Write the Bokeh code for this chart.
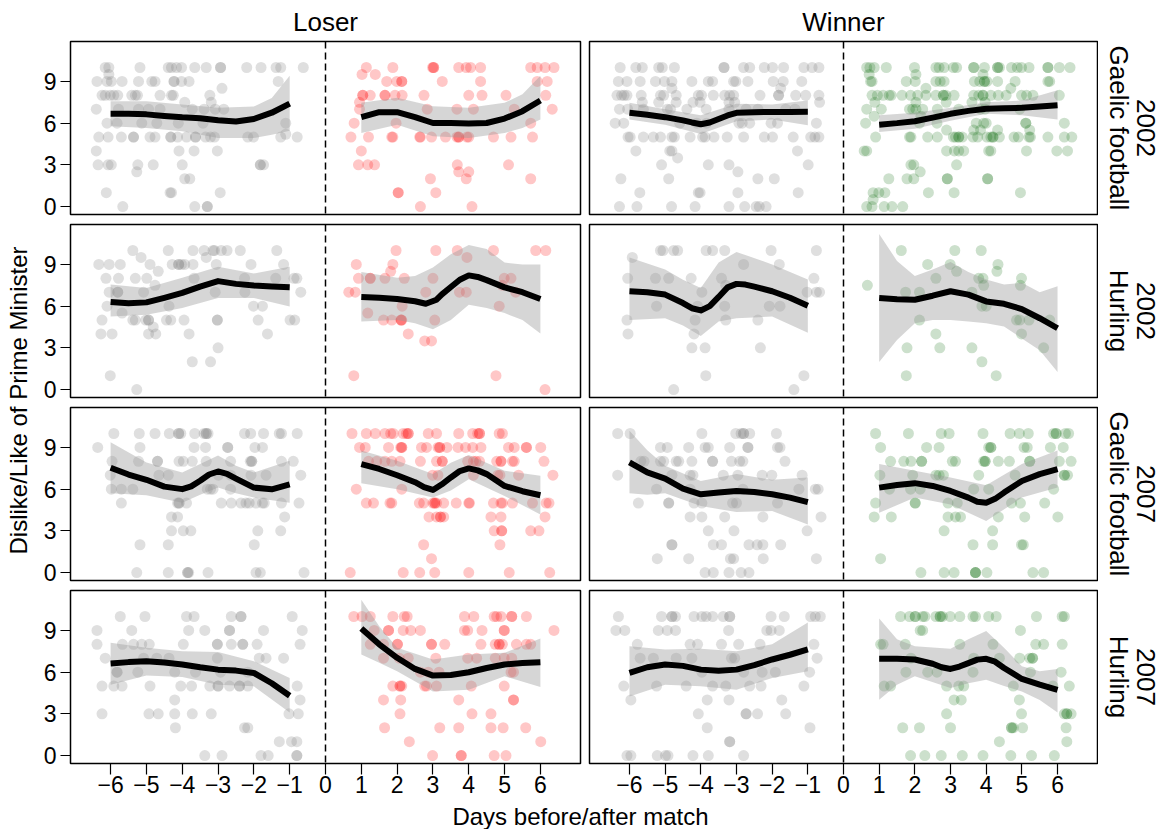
import math
from bokeh.plotting import figure
from bokeh.models import Range1d, FixedTicker, Span, Label
from bokeh.layouts import column, row
from bokeh.embed import file_html
from bokeh.resources import INLINE

FONT = "Liberation Sans"

# ---------------- facet labels / ticks ----------------
COL_LABELS = ["Loser", "Winner"]
ROW_YEARS = ["2002", "2002", "2007", "2007"]
ROW_SPORTS = ["Gaelic football", "Hurling", "Gaelic football", "Hurling"]
X_TICKS = [-6, -5, -4, -3, -2, -1, 0, 1, 2, 3, 4, 5, 6]
X_TICK_LABELS = ["\u22126", "\u22125", "\u22124", "\u22123", "\u22122", "\u22121",
                 "0", "1", "2", "3", "4", "5", "6"]
Y_TICKS = [0, 3, 6, 9]
X_LABEL = "Days before/after match"
Y_LABEL = "Dislike/Like of Prime Minister"

# ---------------- observations: (rating, [jittered day values]) ----------------
# 2002 Gaelic football, Loser
gf02_loser_pre = [
    (10, [-6.15, -6.05, -5.18, -4.39, -4.30, -4.16, -4.02, -3.65, -3.33, -2.93, -2.93, -2.20, -1.80, -1.38, -1.25, -0.62]),
    (9.5, [-6.05]),
    (9, [-6.38, -6.10, -5.98, -5.68, -5.22, -4.85, -4.76, -4.23, -4.23, -4.02, -3.81, -1.32]),
    (8.5, [-2.89]),
    (8, [-6.24, -6.15, -6.01, -5.91, -5.80, -5.41, -5.31, -5.25, -4.62, -4.30, -4.25, -3.23]),
    (7.5, [-3.93, -3.19]),
    (7, [-6.40, -5.78, -5.22, -4.94, -4.62, -3.72, -3.39, -3.08, -2.84]),
    (6, [-6.10, -5.82, -5.13, -4.71, -4.11, -3.42, -1.11]),
    (5.2, [-1.11]),
    (5, [-6.33, -6.07, -5.70, -5.36, -5.36, -4.90, -4.76, -4.32, -4.32, -4.13, -3.88, -3.63, -3.63, -3.35, -3.21, -3.10, -2.17, -2.01, -1.25, -0.79]),
    (4, [-6.40, -4.09, -3.67, -3.02]),
    (3, [-6.35, -6.07, -5.98, -5.24, -4.81, -4.00, -1.82, -1.82, -1.73]),
    (2.5, [-5.27]),
    (2, [-3.93, -3.79]),
    (1, [-6.12, -4.34, -4.30, -2.94]),
    (0, [-5.66, -3.65, -3.30, -3.30]),
]
gf02_loser_post = [
    (10, [1.14, 1.88, 2.99, 3.02, 3.02, 3.72, 3.93, 4.05, 4.33, 5.73, 5.91, 6.13, 6.38]),
    (9.5, [1.02, 1.39]),
    (9, [1.71, 1.99, 2.13, 2.13, 3.26, 4.33, 5.91, 6.19]),
    (8, [1.04, 1.04, 1.25, 1.66, 1.66, 1.94, 2.14, 2.75, 4.00, 4.37, 5.04, 6.15]),
    (7.5, [0.95]),
    (7, [0.95, 2.84, 3.67, 4.13, 5.27, 6.33]),
    (6, [0.80, 1.97, 5.73]),
    (5, [0.71, 1.20, 1.85, 1.88, 2.63, 2.65, 2.96, 3.35, 3.67, 3.72, 3.72, 3.95, 4.00, 4.69, 5.18, 5.78]),
    (4, [1.00]),
    (3, [0.92, 1.18, 1.37, 3.68, 5.11]),
    (2.5, [3.72, 4.00]),
    (2, [2.93, 3.93, 5.73]),
    (1, [2.03, 2.03, 3.08]),
    (0, [2.65, 4.09]),
]
# 2002 Gaelic football, Winner
gf02_winner_pre = [
    (10, [-6.26, -5.82, -5.64, -5.18, -5.08, -4.74, -3.35, -3.35, -2.80, -2.63, -2.22, -1.99, -1.68, -1.11, -0.88, -0.69]),
    (9, [-6.31, -6.07, -5.70, -5.27, -5.02, -4.81, -4.25, -3.79, -3.67, -3.08, -3.02, -2.68, -1.97, -1.69, -1.17]),
    (8.5, [-4.81, -1.76]),
    (8, [-6.35, -6.22, -6.15, -6.07, -5.67, -5.13, -5.04, -4.69, -4.07, -3.98, -3.65, -3.33, -3.19, -3.08, -2.34, -1.82, -1.82, -1.34, -1.06, -0.69]),
    (7.5, [-5.64, -5.18, -4.69, -4.22, -4.02, -3.21, -3.05, -0.67]),
    (7, [-6.28, -6.05, -5.61, -4.94, -4.85, -4.39, -3.85, -3.21, -2.73, -2.40, -1.62, -1.36]),
    (6, [-6.40, -6.16, -4.59, -4.11, -3.84, -2.93, -2.84, -2.63, -2.03, -1.85, -0.76]),
    (5, [-6.04, -5.98, -5.61, -5.33, -5.13, -4.81, -4.74, -4.30, -3.95, -3.88, -3.63, -3.26, -2.80, -2.22, -1.99, -1.41, -0.92, -0.80, -0.69]),
    (4, [-5.82, -4.87, -4.81, -1.29]),
    (3.5, [-4.65]),
    (3, [-5.10, -3.79, -3.21, -0.99]),
    (2.5, [-2.96]),
    (2, [-6.24, -4.90, -2.40, -1.94]),
    (1, [-5.71, -4.07, -4.02, -2.96, -1.27]),
    (0, [-6.28, -5.79, -4.82, -4.16, -3.21, -2.77, -2.45, -2.36, -2.17]),
]
gf02_winner_post = [
    (10, [0.65, 0.74, 0.86, 1.20, 1.99, 2.59, 2.68, 2.82, 3.08, 3.17, 3.65, 3.65, 3.95, 4.32, 4.32, 4.37, 4.71, 4.87, 4.99, 5.20, 5.73, 5.73, 6.05, 6.35]),
    (9.5, [0.72, 2.03, 3.91]),
    (9, [0.76, 0.80, 1.76, 2.01, 2.59, 2.71, 2.82, 3.67, 3.82, 3.95, 3.95, 4.02, 4.32, 4.81, 5.73, 5.78]),
    (8.5, [2.31, 4.69]),
    (8, [0.80, 0.95, 1.11, 1.28, 1.34, 1.64, 1.88, 2.08, 2.31, 2.59, 2.80, 2.80, 2.87, 3.10, 3.65, 3.79, 3.91, 3.91, 4.13, 4.34, 4.56, 4.99, 5.13, 5.31, 6.05]),
    (7.5, [0.88, 2.03, 2.88, 3.60, 3.97]),
    (7, [0.65, 1.06, 1.85, 1.94, 2.03, 2.22, 2.63, 3.23, 3.84, 3.97, 4.94]),
    (6.5, [0.86, 2.17]),
    (6, [0.62, 2.13, 2.62, 3.72, 3.93, 4.00, 5.11, 5.11, 6.19]),
    (5.5, [2.89, 3.65, 3.84, 4.32, 5.22]),
    (5, [0.90, 1.85, 1.89, 2.36, 2.63, 3.08, 3.14, 3.23, 3.23, 3.33, 3.63, 3.76, 4.02, 4.13, 4.19, 4.19, 4.37, 4.78, 4.90, 5.20, 5.24, 5.73, 6.19, 6.40]),
    (4, [0.58, 0.65, 2.89, 3.11, 3.23, 3.37, 4.07, 4.13, 5.13, 5.98, 6.28]),
    (3, [1.89, 1.97, 3.17]),
    (2.5, [2.15]),
    (2, [1.27, 1.78, 1.97, 2.91, 2.91, 4.04, 4.04]),
    (1, [0.83, 0.99, 1.16, 2.38, 3.10, 4.96]),
    (0.5, [0.83]),
    (0, [0.65, 0.80, 1.14, 1.36, 1.66]),
]
# 2002 Hurling, Loser
hu02_loser_pre = [
    (10, [-5.38, -4.39, -3.70, -3.39, -3.14, -3.10, -2.91, -2.75, -2.38, -1.36]),
    (9.5, [-5.15, -3.33]),
    (9, [-6.33, -6.04, -5.73, -4.90, -4.28, -4.10, -4.10, -4.02, -3.93, -3.70, -3.05, -2.08, -1.17]),
    (8.5, [-4.67]),
    (8, [-6.13, -5.78, -5.31, -4.99, -3.67, -2.26, -1.39, -0.88, -0.80]),
    (7.5, [-4.76]),
    (7, [-6.04, -5.80, -5.80, -5.08, -3.08, -2.25, -0.69]),
    (6, [-6.10, -4.37, -2.01, -1.76]),
    (5.5, [-5.68]),
    (5, [-6.24, -5.38, -5.31, -5.02, -4.94, -4.94, -4.44, -4.32, -3.95, -3.02, -3.02, -1.88, -0.99, -0.86]),
    (4.5, [-4.81]),
    (4, [-6.27, -5.96, -4.94, -4.74, -3.81, -1.62]),
    (3, [-3.00]),
    (2, [-3.72, -3.21]),
    (1, [-6.01]),
    (0, [-5.27]),
]
hu02_loser_post = [
    (10, [1.97, 3.08, 3.68, 4.69, 5.87, 6.15]),
    (9.5, [3.95]),
    (9, [0.86, 1.88]),
    (8.5, [1.82]),
    (8, [0.92, 1.25, 1.25, 1.66, 2.20, 3.00, 4.99, 5.18]),
    (7.5, [4.94]),
    (7, [0.65, 0.83, 2.80, 3.74, 3.93, 5.31]),
    (6, [2.14, 4.85]),
    (5.5, [1.18]),
    (5, [1.62, 1.85, 2.11, 2.11, 2.13, 3.05]),
    (4, [2.31]),
    (3.5, [2.77, 2.96]),
    (1, [0.79, 4.76]),
    (0, [6.13]),
]
# 2002 Hurling, Winner
hu02_winner_pre = [
    (10, [-5.13, -5.06, -4.76, -4.65, -3.85, -3.67, -3.33, -2.03, -0.76]),
    (9.5, [-5.92]),
    (9, [-2.80, -1.80]),
    (8, [-6.05, -5.27, -4.90, -4.27, -3.42, -0.83]),
    (7.5, [-3.30]),
    (7, [-3.97, -1.02, -0.76, -0.67]),
    (6, [-5.24, -4.09, -3.33, -2.08, -1.78]),
    (5, [-6.07, -4.16, -3.30, -2.40]),
    (4, [-6.04, -4.19]),
    (3, [-4.25, -3.88, -2.33]),
    (1, [-3.86, -1.11]),
    (0, [-4.76, -1.39]),
]
hu02_winner_post = [
    (10, [1.62, 3.12, 3.86]),
    (9, [2.36, 2.99, 4.33]),
    (8.5, [3.17, 4.30]),
    (8, [2.59, 3.79, 3.91, 4.99]),
    (7.5, [0.67, 3.93, 4.96]),
    (7, [1.74, 2.13, 3.60]),
    (6, [3.88, 4.00]),
    (5, [2.13, 4.85, 4.94, 5.20, 5.78]),
    (4, [2.59, 4.99]),
    (3, [1.78, 2.70, 3.60, 5.61]),
    (2, [3.88]),
    (1, [1.76, 4.28]),
]
# 2007 Gaelic football, Loser
gf07_loser_pre = [
    (10, [-5.91, -5.20, -4.76, -4.36, -4.10, -4.10, -4.04, -3.65, -3.39, -3.33, -3.33, -3.28, -2.26, -2.09, -1.73, -1.29, -1.23, -0.79]),
    (9, [-6.36, -5.18, -3.67, -3.35, -2.73, -2.73, -1.97, -1.76]),
    (8, [-5.96, -5.22, -4.69, -4.69, -4.09, -3.97, -3.72, -3.33, -2.65, -2.10, -2.06, -2.06, -1.23, -0.90]),
    (7, [-6.01, -4.65, -4.39, -2.99, -2.65, -2.08, -1.66, -0.69]),
    (6, [-5.98, -5.70, -5.38, -3.30, -3.21, -3.14, -2.65]),
    (5, [-5.70, -4.13, -4.09, -4.09, -3.88, -2.91, -2.63, -2.36, -2.22, -2.13, -1.94, -1.76, -1.71, -1.23, -0.74]),
    (4, [-4.30, -4.13, -1.14]),
    (3, [-4.30, -3.97, -3.76, -1.89, -1.25]),
    (2, [-5.18, -4.39, -1.99]),
    (0, [-5.27, -4.39, -3.85, -3.85, -3.82, -3.28, -1.94, -1.82, -0.60]),
]
gf07_loser_post = [
    (10, [0.74, 1.14, 1.39, 1.66, 1.82, 1.89, 2.17, 2.26, 2.31, 2.31, 2.87, 3.10, 3.72, 4.11, 4.25, 4.30, 4.30, 4.85, 4.94]),
    (9, [0.95, 1.11, 1.76, 2.10, 2.13, 2.13, 2.68, 2.82, 3.14, 3.19, 3.19, 3.39, 3.70, 3.91, 4.11, 4.34, 5.11, 5.27, 5.61, 5.61, 6.01]),
    (8, [1.20, 1.43, 1.66, 1.85, 2.08, 2.65, 3.10, 3.26, 3.26, 3.97, 4.13, 4.20, 4.30, 4.78, 4.90, 4.90, 5.22, 5.27, 6.10]),
    (7, [2.99, 3.14, 4.13, 4.81, 4.87, 5.39, 6.35]),
    (6, [0.86, 2.13]),
    (5, [1.14, 1.34, 1.80, 1.85, 2.62, 2.74, 3.00, 3.05, 3.05, 3.10, 3.30, 3.65, 4.00, 4.02, 4.69, 4.90, 4.94, 5.22, 5.78, 6.16, 6.24]),
    (4, [2.89, 3.10, 3.21, 3.21, 3.30, 4.62, 4.90, 6.13]),
    (3, [4.71, 4.92, 4.92, 5.73, 5.96]),
    (2, [2.74, 4.87]),
    (1, [2.96]),
    (0, [0.69, 2.17, 2.63, 3.05, 4.00, 5.13, 6.26]),
]
# 2007 Gaelic football, Winner
gf07_winner_pre = [
    (10, [-6.33, -5.98, -3.97, -3.02, -2.87, -2.80, -2.80, -2.63, -1.88]),
    (9, [-5.13, -4.94, -4.34, -3.88, -3.79, -3.19, -2.68, -2.68, -1.85, -1.78]),
    (8, [-5.68, -5.59, -5.13, -5.04, -4.69, -4.62, -4.25, -3.67, -3.67, -3.14, -2.91, -2.82, -1.64]),
    (7, [-6.33, -4.81, -4.30, -4.22, -3.37, -2.96, -2.28, -2.01, -1.16]),
    (6, [-5.24, -4.30, -2.82, -1.25, -0.79, -0.71]),
    (5, [-5.75, -4.90, -4.90, -4.19, -3.97, -3.11, -3.00, -1.85]),
    (4, [-4.30, -3.97, -3.33, -2.26, -0.63]),
    (3, [-3.79, -3.07, -1.02]),
    (2, [-4.81, -4.81, -3.65, -3.42, -2.65, -2.42, -2.26, -1.76]),
    (1, [-5.22, -4.34, -3.17, -3.08, -2.25, -0.76]),
    (0, [-3.88, -3.65, -3.21, -2.87, -2.65]),
]
gf07_winner_post = [
    (10, [0.90, 1.82, 2.74, 2.96, 3.91, 4.67, 4.93, 5.18, 5.89, 5.96, 5.96, 6.22, 6.31]),
    (9, [1.04, 2.33, 2.68, 4.07, 4.13, 4.13, 5.06, 5.15, 5.80, 6.16]),
    (8, [1.32, 1.69, 1.89, 2.19, 2.19, 3.05, 3.14, 3.93, 3.97, 3.97, 4.34, 4.65, 5.22, 5.22, 6.05, 6.38]),
    (7, [1.02, 1.94, 2.59, 2.68, 2.80, 3.79, 4.81, 6.19, 6.19, 6.28]),
    (6, [1.29, 1.88, 2.15, 3.65, 4.07, 5.89]),
    (5, [0.90, 2.01, 2.01, 2.93, 3.19, 4.71, 4.96, 5.64]),
    (4, [0.86, 1.34, 2.93, 3.14, 3.28, 4.34, 5.08, 6.01]),
    (3, [2.82, 4.18]),
    (2, [3.63, 4.18, 4.99, 5.04]),
    (1, [1.04]),
    (0, [2.17, 2.82, 3.10, 3.70, 3.70, 3.70, 4.02, 5.31, 5.61]),
]
# 2007 Hurling, Loser
hu07_loser_pre = [
    (10, [-5.73, -5.04, -3.88, -3.67, -2.63, -2.36, -2.36, -0.93]),
    (9, [-6.38, -5.41, -3.82, -3.37, -2.68, -2.68, -1.73, -0.65]),
    (8, [-6.38, -5.67, -5.36, -5.13, -4.92, -3.97, -3.02, -3.02, -2.63, -2.31, -2.31, -1.91, -0.71]),
    (7, [-6.15, -5.08, -4.71, -4.37, -3.02, -1.85, -1.66, -1.17]),
    (6, [-5.82, -5.82, -5.24, -4.21, -3.63, -2.93, -2.17]),
    (5, [-6.24, -5.91, -5.68, -4.90, -4.04, -3.74, -3.23, -3.00, -3.00, -2.68, -2.40, -2.40, -2.17, -0.79]),
    (4, [-4.21, -0.71]),
    (3, [-6.24, -4.93, -4.67, -4.21, -3.72, -3.19, -1.02, -0.76]),
    (2, [-4.19, -2.26, -2.17]),
    (1, [-1.29, -0.95, -0.80]),
    (0, [-3.37, -2.89, -1.80, -1.60, -0.80, -0.80]),
]
hu07_loser_post = [
    (10, [0.79, 1.02, 1.25, 1.88, 2.20, 2.28, 3.88, 4.14, 4.71, 4.78, 4.90, 5.20, 5.20, 5.61]),
    (9, [1.36, 1.76, 1.76, 2.17, 2.38, 2.65, 3.88, 3.97, 4.37, 4.99, 4.99, 6.38]),
    (8, [1.25, 1.62, 2.01, 2.01, 2.96, 2.96, 3.33, 4.34, 4.74, 4.85, 4.85, 4.94, 5.33, 5.61, 5.73]),
    (7, [1.62, 2.06, 2.31, 3.08, 3.97, 4.22, 4.74, 4.99, 5.20]),
    (6, [2.65, 2.87, 3.17, 5.18, 5.25]),
    (5, [1.88, 2.08, 2.08, 2.13, 2.77, 2.82, 3.10, 4.07, 4.99]),
    (4, [1.62, 2.10, 3.72, 5.25, 5.25]),
    (3, [2.08, 4.09, 4.62]),
    (2, [1.65, 3.19, 3.72, 4.62, 4.96, 5.59]),
    (1, [2.34, 6.01]),
    (0, [2.99, 3.79, 3.79, 4.71, 5.04]),
]
# 2007 Hurling, Winner
hu07_winner_pre = [
    (10, [-6.31, -5.10, -4.81, -4.81, -4.71, -4.19, -3.97, -3.85, -3.67, -3.37, -3.19, -3.19, -2.03, -1.66, -0.92, -0.79, -0.65]),
    (9, [-6.38, -6.13, -5.19, -4.94, -4.71, -3.22, -2.15, -2.03, -1.80]),
    (8, [-5.78, -4.30, -4.09, -3.42, -2.94, -2.34, -0.83]),
    (7, [-5.70, -5.33, -4.69, -4.25, -3.14, -3.05, -0.74]),
    (6, [-3.97, -2.80, -2.28, -1.91, -0.95]),
    (5, [-6.16, -5.24, -4.41, -3.67, -3.30, -2.63, -2.31, -1.11]),
    (4, [-5.96, -3.82, -3.21, -1.73]),
    (3, [-4.07, -2.73, -2.73, -2.41, -1.62]),
    (2, [-3.82, -0.94]),
    (1, [-3.19, -3.19]),
    (0, [-6.07, -5.96, -5.22, -4.99, -4.92, -4.22, -3.79, -2.80]),
]
hu07_winner_post = [
    (10, [1.60, 1.85, 2.01, 2.01, 2.22, 2.28, 2.59, 2.71, 2.71, 2.77, 2.99, 3.26, 3.63, 3.70, 4.07, 4.28, 5.41, 6.13, 6.19]),
    (9, [2.15, 2.22, 4.96]),
    (8, [1.04, 1.11, 1.73, 3.26, 4.19, 5.39, 5.61, 6.13]),
    (7, [1.89, 3.65, 4.37, 4.94, 5.22, 5.30, 5.30]),
    (6, [1.75, 2.36, 2.62, 3.63, 5.24, 6.10]),
    (5, [1.14, 1.32, 2.89, 3.23, 3.37, 4.76, 5.87, 6.33]),
    (4, [3.10, 3.30, 4.93]),
    (3, [2.89, 4.99, 6.19, 6.26, 6.26, 6.38]),
    (2, [1.66, 2.13, 3.00, 4.71, 4.71, 4.76, 5.02, 6.24]),
    (1, [4.37, 6.26]),
    (0, [1.88, 2.28, 2.74, 3.33, 3.91, 4.69, 5.27, 5.91]),
]

# ---------------- loess fits: (day, fitted) ----------------
gf02_loser_fit_pre = [(-6, 6.67), (-5.5, 6.67), (-5, 6.63), (-4.5, 6.52), (-4, 6.42), (-3.5, 6.35), (-3, 6.2), (-2.5, 6.12), (-2, 6.3), (-1.5, 6.75), (-1, 7.4)]
gf02_loser_fit_post = [(1, 6.43), (1.5, 6.79), (2, 6.79), (2.5, 6.43), (3, 6.01), (3.5, 6.01), (4, 5.97), (4.5, 6.01), (5, 6.33), (5.5, 6.86), (6, 7.63)]
gf02_winner_fit_pre = [(-6, 6.74), (-5.5, 6.6), (-5, 6.43), (-4.5, 6.2), (-4.25, 6.05), (-4, 5.92), (-3.75, 6.05), (-3.5, 6.3), (-3.25, 6.55), (-3, 6.74), (-2.5, 6.79), (-2, 6.8), (-1.5, 6.8), (-1, 6.81)]
gf02_winner_fit_post = [(1, 5.89), (1.5, 6.0), (2, 6.14), (2.5, 6.4), (3, 6.67), (3.5, 6.88), (4, 7.03), (4.5, 7.07), (5, 7.1), (5.5, 7.2), (6, 7.29)]
hu02_loser_fit_pre = [(-6, 6.3), (-5.5, 6.2), (-5, 6.27), (-4.5, 6.6), (-4, 6.95), (-3.5, 7.4), (-3, 7.8), (-2.5, 7.6), (-2, 7.48), (-1.5, 7.42), (-1, 7.36)]
hu02_loser_fit_post = [(1, 6.66), (1.5, 6.6), (2, 6.51), (2.5, 6.35), (2.8, 6.17), (3.1, 6.46), (3.25, 6.85), (3.5, 7.38), (3.75, 7.9), (4, 8.21), (4.25, 8.1), (4.5, 7.87), (5, 7.35), (5.5, 7.0), (6, 6.51)]
hu02_winner_fit_pre = [(-6, 7.07), (-5.5, 7.0), (-5, 6.83), (-4.5, 6.22), (-4.25, 5.85), (-4, 5.69), (-3.75, 6.0), (-3.5, 6.66), (-3.25, 7.35), (-3, 7.6), (-2.75, 7.55), (-2.5, 7.4), (-2, 7.07), (-1.5, 6.6), (-1, 6.03)]
hu02_winner_fit_post = [(1, 6.59), (1.5, 6.5), (2, 6.46), (2.5, 6.75), (3, 7.07), (3.5, 6.83), (4, 6.34), (4.5, 6.17), (5, 5.79), (5.5, 5.13), (6, 4.41)]
gf07_loser_fit_pre = [(-6, 7.54), (-5.5, 7.05), (-5, 6.67), (-4.5, 6.18), (-4, 6.0), (-3.75, 6.2), (-3.5, 6.6), (-3.25, 7.05), (-3, 7.27), (-2.75, 7.1), (-2.5, 6.76), (-2, 6.11), (-1.5, 5.99), (-1, 6.35)]
gf07_loser_fit_post = [(1, 7.8), (1.5, 7.45), (2, 7.0), (2.5, 6.5), (2.75, 6.15), (3, 5.94), (3.25, 6.35), (3.5, 6.84), (3.75, 7.3), (4, 7.49), (4.25, 7.35), (4.5, 7.08), (5, 6.23), (5.5, 5.85), (6, 5.56)]
gf07_winner_fit_pre = [(-6, 7.92), (-5.5, 7.2), (-5, 6.76), (-4.5, 6.04), (-4, 5.63), (-3.5, 5.75), (-3, 5.87), (-2.5, 5.8), (-2, 5.63), (-1.5, 5.39), (-1, 5.07)]
gf07_winner_fit_post = [(1, 6.11), (1.5, 6.3), (2, 6.43), (2.5, 6.23), (3, 5.87), (3.5, 5.39), (3.75, 5.1), (4, 5.02), (4.25, 5.3), (4.5, 5.75), (5, 6.59), (5.5, 7.08), (6, 7.44)]
hu07_loser_fit_pre = [(-6, 6.62), (-5.5, 6.72), (-5, 6.79), (-4.5, 6.7), (-4, 6.55), (-3.5, 6.35), (-3, 6.18), (-2.5, 6.11), (-2, 5.94), (-1.5, 5.2), (-1, 4.3)]
hu07_loser_fit_post = [(1, 9.13), (1.5, 8.0), (2, 7.03), (2.5, 6.23), (3, 5.75), (3.5, 5.8), (4, 5.99), (4.5, 6.3), (5, 6.55), (5.5, 6.65), (6, 6.71)]
hu07_winner_fit_pre = [(-6, 5.94), (-5.5, 6.35), (-5, 6.55), (-4.5, 6.45), (-4, 6.18), (-3.5, 6.1), (-3, 6.18), (-2.5, 6.5), (-2, 6.91), (-1.5, 7.25), (-1, 7.63)]
hu07_winner_fit_post = [(1, 6.96), (1.5, 6.96), (2, 6.91), (2.5, 6.6), (2.75, 6.35), (3, 6.23), (3.25, 6.4), (3.5, 6.65), (3.75, 6.9), (4, 6.96), (4.25, 6.75), (4.5, 6.3), (5, 5.51), (5.5, 5.1), (6, 4.73)]

# ---------------- confidence bands: (day, lower, upper) ----------------
gf02_loser_ci_pre = [(-6, 5.77, 7.58), (-5, 5.65, 7.58), (-4, 5.41, 7.34), (-3, 4.93, 7.1), (-2, 4.93, 7.2), (-1.5, 5.17, 7.8), (-1, 5.46, 9.4)]
gf02_loser_ci_post = [(1, 5.29, 7.46), (2, 5.89, 7.83), (3, 5.05, 7.22), (4, 4.93, 7.1), (5, 5.29, 7.46), (5.5, 5.65, 8.07), (6, 6.26, 9.4)]
gf02_winner_ci_pre = [(-6, 6.26, 7.46), (-5, 5.89, 7.0), (-4, 5.22, 6.57), (-3, 6.14, 7.39), (-2, 6.26, 7.34), (-1, 5.85, 7.63)]
gf02_winner_ci_post = [(1, 5.36, 6.57), (2, 5.6, 6.74), (3, 6.18, 7.1), (4, 6.67, 7.51), (5, 6.57, 7.63), (6, 6.26, 8.36)]
hu02_loser_ci_pre = [(-6, 5.25, 7.55), (-5, 5.38, 7.31), (-4, 5.86, 8.04), (-3, 6.59, 8.84), (-2, 6.59, 8.35), (-1, 5.98, 8.84)]
hu02_loser_ci_post = [(1, 4.89, 8.45), (2, 5.0, 8.04), (2.5, 4.77, 8.16), (3, 4.33, 8.77), (3.5, 5.0, 9.73), (4, 6.1, 10.39), (4.5, 5.86, 10.1), (5, 5.5, 9.13), (5.5, 5.0, 9.0), (6, 4.04, 9.0)]
hu02_winner_ci_pre = [(-6, 5.0, 9.49), (-5, 5.13, 8.64), (-4.5, 4.6, 7.9), (-4, 3.85, 7.31), (-3.5, 4.89, 9.13), (-3, 5.13, 9.9), (-2, 5.25, 9.0), (-1, 4.09, 7.92)]
hu02_winner_ci_post = [(1, 1.99, 11.19), (1.5, 3.56, 9.25), (2, 4.77, 8.16), (2.5, 5.0, 8.64), (3, 5.0, 9.18), (3.5, 4.89, 8.45), (4, 4.77, 7.92), (4.5, 4.53, 7.55), (5, 3.68, 7.68), (5.5, 2.83, 7.0), (6, 1.26, 7.43)]
gf07_loser_ci_pre = [(-6, 5.7, 9.37), (-5, 5.56, 7.92), (-4, 5.02, 7.2), (-3.5, 5.6, 7.8), (-3, 6.11, 8.41), (-2.5, 5.7, 7.68), (-2, 5.39, 7.2), (-1, 5.02, 8.04)]
gf07_loser_ci_post = [(1, 6.43, 8.77), (2, 5.99, 8.04), (3, 5.39, 7.08), (3.5, 5.9, 7.9), (4, 6.71, 8.45), (5, 5.51, 7.32), (6, 4.18, 6.96)]
gf07_winner_ci_pre = [(-6, 5.7, 10.2), (-5.5, 5.6, 8.8), (-5, 5.7, 7.68), (-4, 4.78, 6.59), (-3, 4.35, 7.08), (-2, 4.42, 6.67), (-1, 3.45, 6.84)]
gf07_winner_ci_post = [(1, 4.3, 7.8), (2, 5.39, 7.32), (3, 4.9, 6.84), (4, 3.7, 6.28), (5, 5.39, 7.8), (6, 6.11, 8.77)]
hu07_loser_ci_pre = [(-6, 5.1, 8.12), (-5, 5.75, 7.75), (-4, 5.65, 7.51), (-3, 5.1, 7.44), (-2, 4.98, 6.79), (-1, 3.09, 5.58)]
hu07_loser_ci_post = [(1, 7.27, 11.2), (1.5, 6.67, 9.3), (2, 6.06, 7.75), (3, 4.61, 6.91), (4, 4.73, 7.27), (5, 5.7, 7.39), (6, 4.93, 8.41)]
hu07_winner_ci_pre = [(-6, 4.25, 7.87), (-5, 5.1, 7.63), (-4, 4.98, 7.68), (-3, 4.73, 7.51), (-2, 5.58, 8.0), (-1, 6.06, 9.57)]
hu07_winner_ci_post = [(1, 4.01, 9.86), (1.5, 5.1, 8.36), (2, 5.7, 7.87), (3, 4.86, 7.68), (3.5, 5.2, 8.36), (4, 5.46, 8.96), (4.5, 5.0, 7.75), (5, 4.61, 6.43), (5.5, 4.0, 6.06), (6, 3.09, 6.23)]

# ---------------- layout constants (pixels) ----------------
HEADER_H = 40
ROW_H = 183
LAST_ROW_BOTTOM = 39
FRAME_H = 173
YLAB_W = 35
STRIP_W = 69
X_RANGE = (-7.12, 7.12)
Y_RANGE = (-0.57, 11.87)

GREY = "#7f7f7f"
RED = "#ff0000"
GREEN = "#006400"


def flatten(rows):
    xs, ys = [], []
    for yv, xl in rows:
        for xv in xl:
            xs.append(xv)
            ys.append(yv)
    return xs, ys


def blank(w, h):
    p = figure(frame_width=w, frame_height=h, x_range=Range1d(0, w), y_range=Range1d(0, h),
               x_axis_location=None, y_axis_location=None, toolbar_location=None,
               output_backend="svg", min_border=0, outline_line_color=None)
    p.xgrid.grid_line_color = None
    p.ygrid.grid_line_color = None
    return p


def panel(pre, post, post_color, post_alpha, fit_pre, fit_post, ci_pre, ci_post, left, last):
    fw = 510 if left else 508
    p = figure(frame_width=fw, frame_height=FRAME_H,
               x_range=Range1d(*X_RANGE), y_range=Range1d(*Y_RANGE),
               x_axis_location=("below" if last else None),
               y_axis_location=("left" if left else None),
               toolbar_location=None, output_backend="svg",
               min_border_left=(35 if left else 5), min_border_right=(4 if left else 1),
               min_border_top=1, min_border_bottom=(LAST_ROW_BOTTOM if last else 9),
               outline_line_color="black", outline_line_width=1.5)
    p.xgrid.grid_line_color = None
    p.ygrid.grid_line_color = None

    x0, y0 = flatten(pre)
    p.scatter(x0, y0, size=11, fill_color=GREY, fill_alpha=0.25, line_color=None)
    x1, y1 = flatten(post)
    p.scatter(x1, y1, size=11, fill_color=post_color, fill_alpha=post_alpha, line_color=None)

    for ci in (ci_pre, ci_post):
        p.varea(x=[c[0] for c in ci], y1=[c[1] for c in ci], y2=[c[2] for c in ci],
                fill_color="#999999", fill_alpha=0.4)
    for fit in (fit_pre, fit_post):
        p.line([f[0] for f in fit], [f[1] for f in fit], line_color="black", line_width=6,
               line_join="round")

    p.add_layout(Span(location=0, dimension="height", line_color="black",
                      line_width=1.5, line_dash="7 4"))

    if left:
        ax = p.yaxis[0]
        ax.ticker = FixedTicker(ticks=Y_TICKS)
        ax.axis_line_color = None
        ax.major_tick_out = 10
        ax.major_tick_in = 0
        ax.minor_tick_out = 0
        ax.minor_tick_in = 0
        ax.major_tick_line_width = 1.2
        ax.major_label_standoff = 4
        ax.major_label_text_font = FONT
        ax.major_label_text_font_size = "23px"
        ax.major_label_text_color = "black"
    if last:
        ax = p.xaxis[0]
        ax.ticker = FixedTicker(ticks=X_TICKS)
        ax.major_label_overrides = {t: s for t, s in zip(X_TICKS, X_TICK_LABELS)}
        ax.axis_line_color = None
        ax.major_tick_out = 11
        ax.major_tick_in = 0
        ax.minor_tick_out = 0
        ax.minor_tick_in = 0
        ax.major_tick_line_width = 1.2
        ax.major_label_standoff = 1
        ax.major_label_text_font = FONT
        ax.major_label_text_font_size = "23px"
        ax.major_label_text_color = "black"
    return p


spec = [
    (gf02_loser_pre, gf02_loser_post, gf02_loser_fit_pre, gf02_loser_fit_post, gf02_loser_ci_pre, gf02_loser_ci_post,
     gf02_winner_pre, gf02_winner_post, gf02_winner_fit_pre, gf02_winner_fit_post, gf02_winner_ci_pre, gf02_winner_ci_post),
    (hu02_loser_pre, hu02_loser_post, hu02_loser_fit_pre, hu02_loser_fit_post, hu02_loser_ci_pre, hu02_loser_ci_post,
     hu02_winner_pre, hu02_winner_post, hu02_winner_fit_pre, hu02_winner_fit_post, hu02_winner_ci_pre, hu02_winner_ci_post),
    (gf07_loser_pre, gf07_loser_post, gf07_loser_fit_pre, gf07_loser_fit_post, gf07_loser_ci_pre, gf07_loser_ci_post,
     gf07_winner_pre, gf07_winner_post, gf07_winner_fit_pre, gf07_winner_fit_post, gf07_winner_ci_pre, gf07_winner_ci_post),
    (hu07_loser_pre, hu07_loser_post, hu07_loser_fit_pre, hu07_loser_fit_post, hu07_loser_ci_pre, hu07_loser_ci_post,
     hu07_winner_pre, hu07_winner_post, hu07_winner_fit_pre, hu07_winner_fit_post, hu07_winner_ci_pre, hu07_winner_ci_post),
]

left_figs, right_figs, strips = [], [], []
for r, s in enumerate(spec):
    last = (r == 3)
    left_figs.append(panel(s[0], s[1], RED, 0.22, s[2], s[3], s[4], s[5], True, last))
    right_figs.append(panel(s[6], s[7], GREEN, 0.2, s[8], s[9], s[10], s[11], False, last))
    h = 1 + FRAME_H + (LAST_ROW_BOTTOM if last else 9)
    sp = blank(STRIP_W, h)
    cy = h - 1 - FRAME_H / 2
    sp.add_layout(Label(x=34, y=cy, text=ROW_YEARS[r] + "\n" + ROW_SPORTS[r], angle=-math.pi / 2,
                        text_align="center", text_baseline="middle", text_line_height=0.9,
                        text_font=FONT, text_font_size="26px", text_color="black"))
    strips.append(sp)

grid_h = 3 * ROW_H + 1 + FRAME_H + LAST_ROW_BOTTOM

header = blank(1167, HEADER_H)
for lab, cx in zip(COL_LABELS, (325, 843)):
    header.add_layout(Label(x=cx, y=19, text=lab, text_align="center", text_baseline="middle",
                            text_font=FONT, text_font_size="26px", text_color="black"))

ylab = blank(YLAB_W, grid_h)
ylab.add_layout(Label(x=18, y=grid_h - (400 - HEADER_H), text=Y_LABEL, angle=math.pi / 2,
                      text_align="center", text_baseline="middle", text_font=FONT,
                      text_font_size="24px", text_color="black"))

footer_h = 829 - HEADER_H - grid_h
footer = blank(1167, footer_h)
footer.add_layout(Label(x=580, y=footer_h / 2, text=X_LABEL, text_align="center",
                        text_baseline="middle", text_font=FONT, text_font_size="24px", text_color="black"))

page = column(header,
              row(ylab, column(*left_figs), column(*right_figs), column(*strips)),
              footer)

open("out.html", "w").write(file_html(page, INLINE))
